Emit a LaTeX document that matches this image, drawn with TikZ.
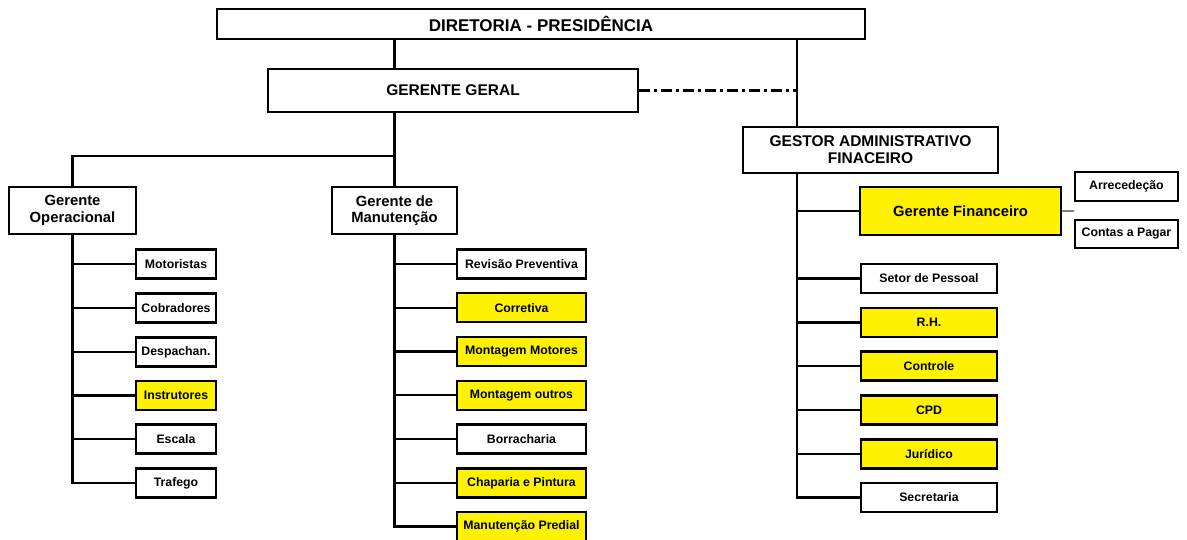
\documentclass[tikz,border=0pt]{standalone}
\usepackage{fontspec}
\setmainfont{Liberation Sans}
\begin{document}
\begin{tikzpicture}[x=1pt,y=-1pt,
  conn/.style={line width=2.3pt, line cap=rect},
  thinconn/.style={line width=1.2pt, draw=gray},
  dashdot/.style={line width=2.6pt, dash pattern=on 11pt off 4pt on 3pt off 4pt},
  topbox/.style={draw, line width=2.7pt, fill=white, inner sep=0pt, align=center,
    font=\bfseries\fontsize{17}{19}\selectfont},
  bigbox/.style={draw, line width=2.7pt, fill=white, inner sep=0pt, align=center,
    font=\bfseries\fontsize{15.5}{17}\selectfont},
  midbox/.style={draw, line width=2.4pt, fill=white, inner sep=0pt, align=center,
    font=\bfseries\fontsize{14.8}{16.5}\selectfont},
  smallbox/.style={draw, line width=2.3pt, fill=white, inner sep=0pt, align=center,
    font=\bfseries\fontsize{12.3}{14}\selectfont, minimum height=29pt},
  leftbox/.style={smallbox, minimum width=80pt},
  centbox/.style={smallbox, minimum width=129pt},
  rightbox/.style={smallbox, minimum width=136pt},
  hl/.style={fill=yellow}]
\useasboundingbox[fill=white] (0,0) rectangle (1187,539);

% top level
\node[topbox, minimum width=648pt, minimum height=30pt] (dir) at (541,24) {DIRETORIA - PRESIDÊNCIA};
\node[bigbox, minimum width=370pt, minimum height=43pt] (gg) at (453,90.5) {GERENTE GERAL};
\node[bigbox, minimum width=255pt, minimum height=46pt] (gaf) at (870.5,150) {GESTOR ADMINISTRATIVO\\FINACEIRO};

% managers
\node[midbox, minimum width=127pt, minimum height=47pt] (gop) at (72.5,210.5) {Gerente\\Operacional};
\node[midbox, minimum width=125pt, minimum height=47pt] (gman) at (394.5,210.5) {Gerente de\\Manutenção};
\node[midbox, hl, minimum width=201pt, minimum height=48pt] (gf) at (960.5,211) {Gerente Financeiro};
\node[smallbox, minimum width=103pt] (arr) at (1126.5,186.5) {Arrecedeção};
\node[smallbox, minimum width=103pt, minimum height=28pt] (cap) at (1126.5,234) {Contas a Pagar};

% left column
\node[leftbox] (mot) at (176,264) {Motoristas};
\node[leftbox] (cob) at (176,308) {Cobradores};
\node[leftbox] (desp) at (176,352) {Despachan.};
\node[leftbox, hl] (inst) at (176,395.5) {Instrutores};
\node[leftbox] (esc) at (176,439) {Escala};
\node[leftbox] (traf) at (176,483) {Trafego};

% middle column
\node[centbox] (rev) at (521.5,264) {Revisão Preventiva};
\node[centbox, hl] (corr) at (521.5,307.7) {Corretiva};
\node[centbox, hl] (mmot) at (521.5,351.5) {Montagem Motores};
\node[centbox, hl] (mout) at (521.5,395.3) {Montagem outros};
\node[centbox] (borr) at (521.5,439) {Borracharia};
\node[centbox, hl] (chap) at (521.5,483) {Chaparia e Pintura};
\node[centbox, hl] (pred) at (521.5,526.5) {Manutenção Predial};

% right column
\node[rightbox] (setor) at (929,278.5) {Setor de Pessoal};
\node[rightbox, hl] (rh) at (929,322.5) {R.H.};
\node[rightbox, hl] (ctrl) at (929,366) {Controle};
\node[rightbox, hl] (cpd) at (929,410) {CPD};
\node[rightbox, hl] (jur) at (929,454) {Jurídico};
\node[rightbox] (sec) at (929,497.5) {Secretaria};

% junction coordinates
\coordinate (jn) at (394.5,156);
\coordinate (rs) at (797,0);

% connectors
\draw[conn] (gman |- dir.south) -- (gman |- gg.north);
\draw[conn] (gman |- gg.south) -- (gman.north);
\draw[conn] (gop.north) |- (jn);
\draw[conn] (rs |- dir.south) -- (rs |- gaf.north);
\draw[dashdot] (gg.east) -- (rs |- gg.east);

\draw[conn] (gop.south) |- (traf.west);
\foreach \n in {mot,cob,desp,inst,esc}
  \draw[conn] (gop.south |- \n.west) -- (\n.west);

\draw[conn] (gman.south) |- (pred.west);
\foreach \n in {rev,corr,mmot,mout,borr,chap}
  \draw[conn] (gman.south |- \n.west) -- (\n.west);

\draw[conn] (rs |- gaf.south) |- (sec.west);
\foreach \n in {gf,setor,rh,ctrl,cpd,jur}
  \draw[conn] (rs |- \n.west) -- (\n.west);

\draw[thinconn] (gf.east) -- (gf.east -| arr.west);
\end{tikzpicture}
\end{document}
